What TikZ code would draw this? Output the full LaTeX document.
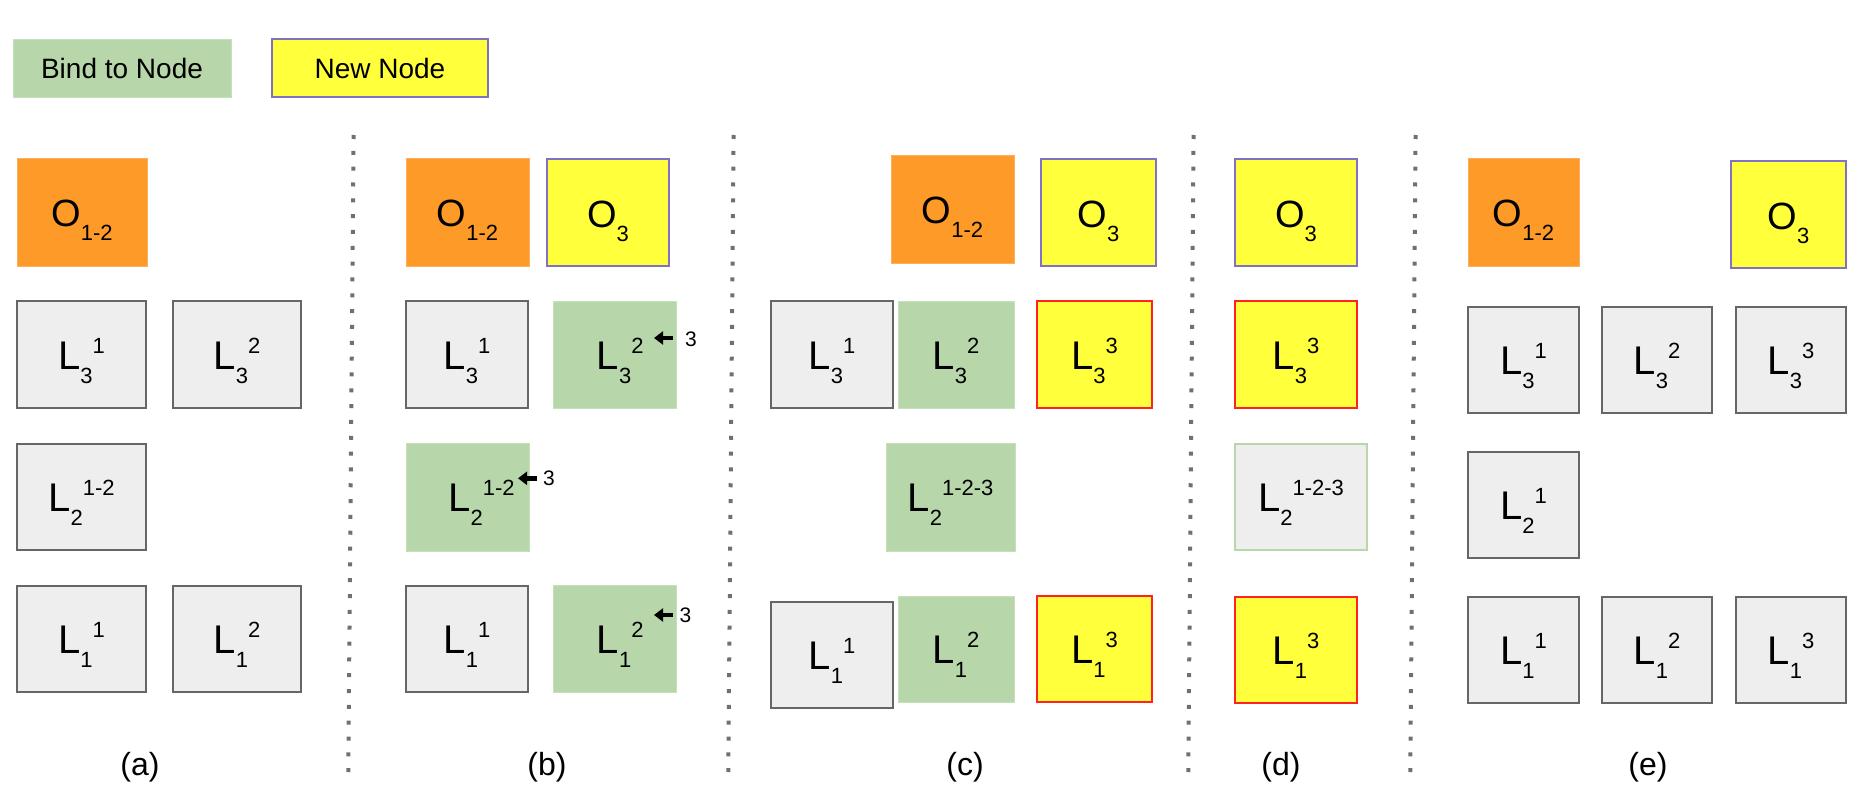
\documentclass[tikz,border=0pt]{standalone}
\usepackage{fontspec}
\setmainfont{Liberation Sans}
\usetikzlibrary{arrows.meta}
\definecolor{orng}{HTML}{FD9A28}
\definecolor{orngb}{HTML}{FBB061}
\definecolor{grn}{HTML}{B7D7AA}
\definecolor{grnb}{HTML}{C6E0BB}
\definecolor{gry}{HTML}{EEEEEE}
\definecolor{gryb}{HTML}{666666}
\definecolor{ylw}{HTML}{FFFF3C}
\definecolor{purp}{HTML}{8270C2}
\definecolor{redb}{HTML}{FF2222}
\definecolor{dotc}{HTML}{707070}
\newcommand\Lsub[1]{\raisebox{-14pt}{\fontsize{22}{24}\selectfont #1}}
\newcommand\Lsup[1]{\raisebox{16pt}{\fontsize{22}{24}\selectfont #1}}
\newcommand\LL[2]{L\Lsub{#1}\Lsup{#2}}
\newcommand\OO[1]{{\fontsize{38}{40}\selectfont O}\Lsub{#1}}
\tikzset{
  box/.style={rectangle, inner sep=0pt, outer sep=0pt, anchor=north west,
    font=\fontsize{40}{44}\selectfont, text height=32pt, text depth=2.4pt},
  greybox/.style={box, fill=gry, draw=gryb, line width=2pt},
  orangebox/.style={box, fill=orng, draw=orngb, line width=0.8pt},
  greenbox/.style={box, fill=grn, draw=grnb, line width=0.8pt},
  newbox/.style={box, fill=ylw, draw=purp, line width=1.8pt},
  redbox/.style={box, fill=ylw, draw=redb, line width=1.8pt},
  mixbox/.style={box, fill=gry, draw=grn, line width=1.8pt},
  legend/.style={font=\fontsize{28}{32}\selectfont, text height=, text depth=},
  sep/.style={draw=dotc, line width=4pt, dash pattern=on 4pt off 11.83pt},
  barrow/.style={line width=4.6pt, -{Triangle[length=9pt,width=13pt]}},
  three/.style={inner sep=0pt, font=\fontsize{21}{24}\selectfont},
  captxt/.style={inner sep=0pt, font=\fontsize{32}{36}\selectfont},
}
\newcommand\bx[7]{\node[#2, minimum width={(#5-#3)*1pt}, minimum height={(#6-#4)*1pt}] (#1) at (#3,#4) {#7};}
\begin{document}
\begin{tikzpicture}[x=1pt,y=-1pt]
\useasboundingbox (0,0) rectangle (1872,800);
% legend
\bx{leg-bind}{greenbox,legend}{13}{39}{231}{97}{Bind to Node}
\bx{leg-new}{newbox,legend}{272}{39}{488}{97}{New Node}
% separators
\coordinate (s1t) at (353.6,135); \coordinate (s1b) at (348.3,772);
\coordinate (s2t) at (733.6,135); \coordinate (s2b) at (728.3,772);
\coordinate (s3t) at (1193.6,135); \coordinate (s3b) at (1188.3,772);
\coordinate (s4t) at (1415.6,135); \coordinate (s4b) at (1410.3,772);
\draw[sep] (s1t) -- (s1b);
\draw[sep] (s2t) -- (s2b);
\draw[sep] (s3t) -- (s3b);
\draw[sep] (s4t) -- (s4b);
% panel (a)
\bx{a-o12}{orangebox}{17}{158}{147}{266}{\OO{1-2}}
\bx{a-l31}{greybox}{17}{301}{146}{408}{\LL{3}{1}}
\bx{a-l32}{greybox}{173}{301}{301}{408}{\LL{3}{2}}
\bx{a-l2}{greybox}{17}{444}{146}{550}{\LL{2}{1-2}}
\bx{a-l11}{greybox}{17}{586}{146}{692}{\LL{1}{1}}
\bx{a-l12}{greybox}{173}{586}{301}{692}{\LL{1}{2}}
% panel (b)
\bx{b-o12}{orangebox}{406}{158}{529}{266}{\OO{1-2}}
\bx{b-o3}{newbox}{547}{159}{669}{266}{\OO{3}}
\bx{b-l31}{greybox}{406}{301}{528}{408}{\LL{3}{1}}
\bx{b-l32}{greenbox}{553}{301}{676}{408}{\hspace*{11.6pt}\LL{3}{2}}
\bx{b-l2}{greenbox}{406}{443}{529}{551}{\hspace*{28pt}\LL{2}{1-2}}
\bx{b-l11}{greybox}{406}{586}{528}{692}{\LL{1}{1}}
\bx{b-l12}{greenbox}{553}{585}{676}{692}{\hspace*{11.6pt}\LL{1}{2}}
\coordinate (b-a1s) at (673,338); \coordinate (b-a1e) at (654,338);
\coordinate (b-a2s) at (537,478.3); \coordinate (b-a2e) at (518,478.3);
\coordinate (b-a3s) at (673,615); \coordinate (b-a3e) at (654,615);
\draw[barrow] (b-a1s) -- (b-a1e);
\draw[barrow] (b-a2s) -- (b-a2e);
\draw[barrow] (b-a3s) -- (b-a3e);
\node[three] (b-t1) at (691,339.2) {3};
\node[three] (b-t2) at (549,478.5) {3};
\node[three] (b-t3) at (685.5,615.5) {3};
% panel (c)
\bx{c-o12}{orangebox}{891}{155}{1014}{263}{\OO{1-2}}
\bx{c-o3}{newbox}{1041}{159}{1156}{266}{\OO{3}}
\bx{c-l31}{greybox}{771}{301}{893}{408}{\LL{3}{1}}
\bx{c-l32}{greenbox}{898}{301}{1014}{408}{\LL{3}{2}}
\bx{c-l33}{redbox}{1037}{301}{1152}{408}{\LL{3}{3}}
\bx{c-l2}{greenbox}{886}{443}{1015}{551}{\LL{2}{1-2-3}}
\bx{c-l11}{greybox}{771}{602}{893}{708}{\LL{1}{1}}
\bx{c-l12}{greenbox}{898}{596}{1014}{702}{\LL{1}{2}}
\bx{c-l13}{redbox}{1037}{596}{1152}{702}{\LL{1}{3}}
% panel (d)
\bx{d-o3}{newbox}{1235}{159}{1357}{266}{\OO{3}}
\bx{d-l33}{redbox}{1235}{301}{1357}{408}{\LL{3}{3}}
\bx{d-l2}{mixbox}{1235}{444}{1367}{550}{\LL{2}{1-2-3}}
\bx{d-l13}{redbox}{1235}{597}{1357}{703}{\LL{1}{3}}
% panel (e)
\bx{e-o12}{orangebox}{1468}{158}{1579}{266}{\OO{1-2}}
\bx{e-o3}{newbox}{1731}{161}{1846}{268}{\OO{3}}
\bx{e-l31}{greybox}{1468}{307}{1579}{413}{\LL{3}{1}}
\bx{e-l32}{greybox}{1602}{307}{1712}{413}{\LL{3}{2}}
\bx{e-l33}{greybox}{1736}{307}{1846}{413}{\LL{3}{3}}
\bx{e-l21}{greybox}{1468}{452}{1579}{558}{\LL{2}{1}}
\bx{e-l11}{greybox}{1468}{597}{1579}{703}{\LL{1}{1}}
\bx{e-l12}{greybox}{1602}{597}{1712}{703}{\LL{1}{2}}
\bx{e-l13}{greybox}{1736}{597}{1846}{703}{\LL{1}{3}}
% captions
\node[captxt] (cap-a) at (140,767) {(a)};
\node[captxt] (cap-b) at (547,767) {(b)};
\node[captxt] (cap-c) at (965,767) {(c)};
\node[captxt] (cap-d) at (1281,767) {(d)};
\node[captxt] (cap-e) at (1648,767) {(e)};
\end{tikzpicture}
\end{document}
